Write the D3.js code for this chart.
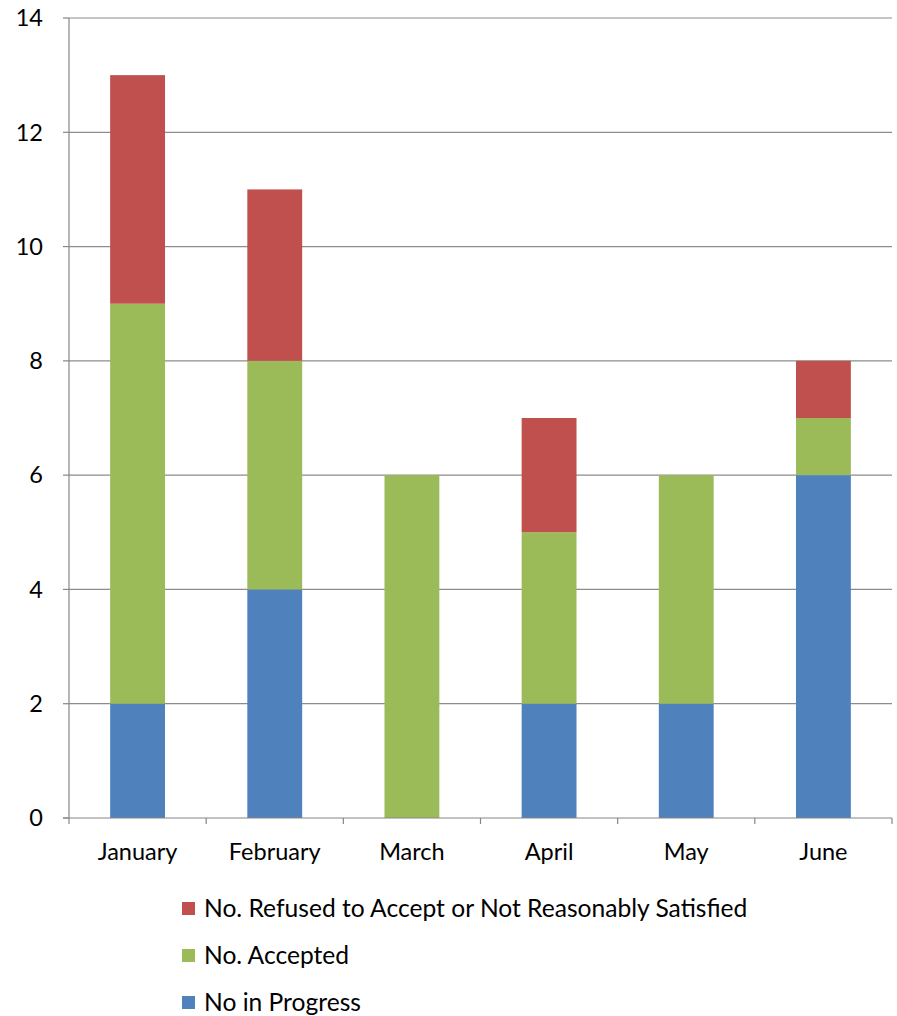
<!DOCTYPE html>
<html><head><meta charset="utf-8">
<script src="https://cdn.jsdelivr.net/npm/d3@7"></script>
<style>body{margin:0;background:#fff;} svg{display:block;} text{font-family:Lato,"Open Sans",sans-serif;fill:#000;}</style>
</head><body>
<svg id="c" width="897" height="1016"></svg>
<script>
const categories = ["January","February","March","April","May","June"];
const inProgress = [2,4,0,2,2,6];
const accepted = [7,4,6,3,4,1];
const refused = [4,3,0,2,0,1];
const yTicks = [0,2,4,6,8,10,12,14];
const seriesNames = ["No in Progress","No. Accepted","No. Refused to Accept or Not Reasonably Satisfied"];
const colors = ["#4F81BD","#9BBB59","#C0504D"];

const svg = d3.select("#c");
const L=69, R=892, T=18, B=818;
const x = d3.scaleBand().domain(categories).range([L,R]).paddingInner(0.6).paddingOuter(0.3);
const xb = d3.scaleBand().domain(categories).range([L,R]);
const y = d3.scaleLinear().domain([0,14]).range([B,T]);

// gridlines
svg.append("g").selectAll("line").data(yTicks.filter(d=>d>0)).join("line")
  .attr("x1",L).attr("x2",R).attr("y1",d=>y(d)).attr("y2",d=>y(d))
  .attr("stroke","#8c8c8c").attr("stroke-width",1.2);

const data = categories.map((c,i)=>({cat:c, inProgress:inProgress[i], accepted:accepted[i], refused:refused[i]}));
const stack = d3.stack().keys(["inProgress","accepted","refused"])(data);
svg.append("g").selectAll("g").data(stack).join("g").attr("fill",(d,i)=>colors[i])
  .selectAll("rect").data(d=>d).join("rect")
  .attr("x",d=>x(d.data.cat)).attr("width",x.bandwidth())
  .attr("y",d=>y(d[1])).attr("height",d=>y(d[0])-y(d[1]));

// axes
const ax = svg.append("g").attr("stroke","#868686").attr("stroke-width",1.2);
ax.append("line").attr("x1",L).attr("x2",L).attr("y1",T).attr("y2",B);
ax.append("line").attr("x1",L-6).attr("x2",R).attr("y1",B).attr("y2",B);
ax.selectAll(".yt").data(yTicks).join("line").attr("class","yt")
  .attr("x1",L-6).attr("x2",L).attr("y1",d=>y(d)).attr("y2",d=>y(d));
const bounds = [L].concat(categories.map(c=>xb(c)+xb.bandwidth()));
ax.selectAll(".xt").data(bounds).join("line").attr("class","xt")
  .attr("x1",d=>d).attr("x2",d=>d).attr("y1",B).attr("y2",B+6);

svg.append("g").selectAll("text").data(yTicks).join("text")
  .attr("x",43).attr("y",d=>y(d)).attr("dy","0.35em").attr("text-anchor","end")
  .attr("font-size",23.5).text(d=>d);
svg.append("g").selectAll("text").data(categories).join("text")
  .attr("x",d=>xb(d)+xb.bandwidth()/2).attr("y",852).attr("dy","0.35em").attr("text-anchor","middle")
  .attr("font-size",23.5).text(d=>d);

// legend
const leg = [2,1,0];
const lg = svg.append("g").selectAll("g").data(leg).join("g")
  .attr("transform",(d,i)=>`translate(182,${902+i*47})`);
lg.append("rect").attr("width",13).attr("height",13).attr("fill",d=>colors[d]);
lg.append("text").attr("x",22).attr("y",6.5).attr("dy","0.35em").attr("font-size",24.6).text(d=>seriesNames[d]);
</script>
</body></html>
